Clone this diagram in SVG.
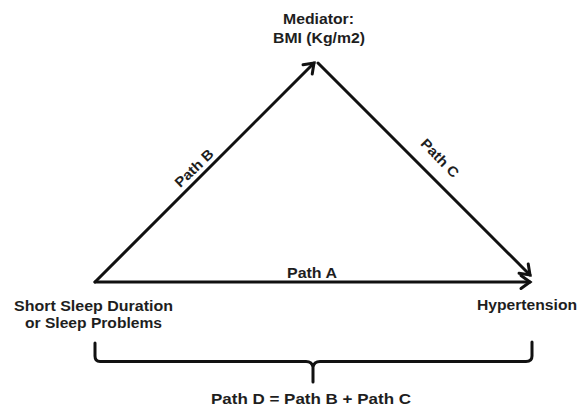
<svg xmlns="http://www.w3.org/2000/svg" width="581" height="408" viewBox="0 0 581 408">
<defs>
<marker id="arr" markerUnits="userSpaceOnUse" markerWidth="20" markerHeight="20" viewBox="-12 -10 14 20" refX="0" refY="0" orient="auto">
<path d="M-9,-6.5 L0,0 L-9,6.5" fill="none" stroke="#111" stroke-width="3" stroke-linecap="round" stroke-linejoin="miter"/>
</marker>
<style>
text{font-family:"Liberation Sans",Arial,sans-serif;font-weight:bold;font-size:14px;fill:#1e1e1e}
.c{text-anchor:middle}
.ln{stroke:#111;stroke-width:3;fill:none;stroke-linecap:round}
</style>
</defs>
<rect width="581" height="408" fill="#fff"/>
<g id="node-mediator">
<text class="c" x="318.5" y="24" textLength="71" lengthAdjust="spacingAndGlyphs">Mediator:</text>
<text class="c" x="319" y="42.5" textLength="92" lengthAdjust="spacingAndGlyphs">BMI (Kg/m2)</text>
</g>
<g id="node-sleep">
<text class="c" x="93.5" y="311" textLength="159" lengthAdjust="spacingAndGlyphs">Short Sleep Duration</text>
<text class="c" x="93.5" y="328" textLength="137" lengthAdjust="spacingAndGlyphs">or Sleep Problems</text>
</g>
<g id="node-hypertension">
<text class="c" x="527" y="310" textLength="100" lengthAdjust="spacingAndGlyphs">Hypertension</text>
</g>
<g id="connectors">
<line class="ln" x1="95" y1="282" x2="314" y2="63" marker-end="url(#arr)"/>
<line class="ln" x1="318" y1="63" x2="530" y2="275" marker-end="url(#arr)"/>
<line class="ln" x1="95" y1="282" x2="530" y2="282" marker-end="url(#arr)"/>
<text class="c" x="312" y="278" textLength="50" lengthAdjust="spacingAndGlyphs">Path A</text>
<text class="c" transform="translate(194,168) rotate(-44)" x="0" y="5" textLength="48" lengthAdjust="spacingAndGlyphs">Path B</text>
<text class="c" transform="translate(440,158) rotate(46)" x="0" y="5" textLength="48" lengthAdjust="spacingAndGlyphs">Path C</text>
</g>
<g id="brace">
<path class="ln" d="M95,343 L95,356 Q95,361.5 100,361.5 L306,361.5 Q312,361.5 313,367 L313,382 M313,382 L313,367 Q314,361.5 320,361.5 L526,361.5 Q532,361.5 532,356 L532,342"/>
<text class="c" x="311" y="404" textLength="200" lengthAdjust="spacingAndGlyphs">Path D = Path B + Path C</text>
</g>
</svg>
